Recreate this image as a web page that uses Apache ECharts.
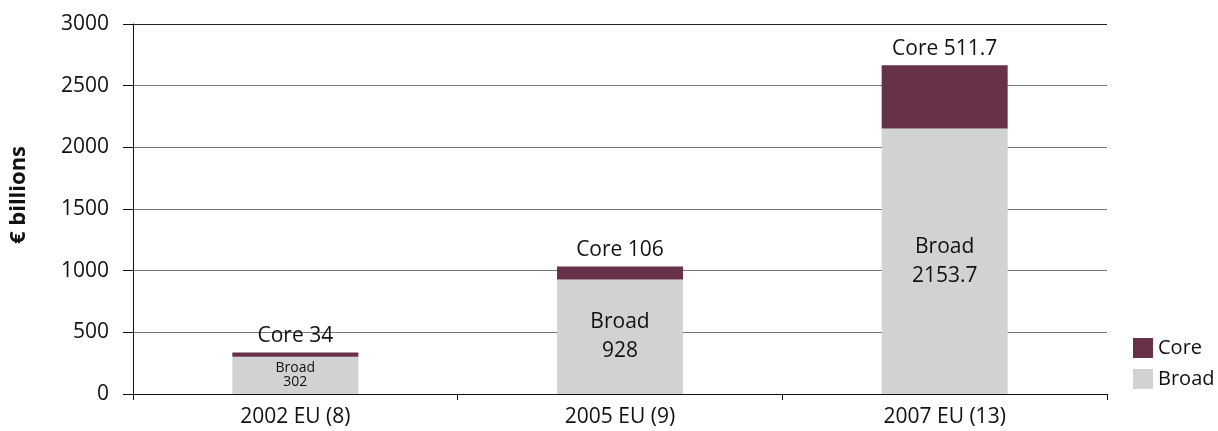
<!DOCTYPE html>
<html><head><meta charset="utf-8">
<script src="https://cdn.jsdelivr.net/npm/echarts@6/dist/echarts.min.js"></script>
<style>html,body{margin:0;padding:0;background:#fff}#c{width:1218px;height:431px}</style>
</head><body><div id="c"></div>
<script>
var categories = ['2002 EU (8)', '2005 EU (9)', '2007 EU (13)'];
var broadValues = [302, 928, 2153.7];
var coreValues = [34, 106, 511.7];
var yTicks = [0, 500, 1000, 1500, 2000, 2500, 3000];

var FONT = 'Open Sans';
var chart = echarts.init(document.getElementById('c'));
chart.setOption({
  animation: false,
  textStyle: { fontFamily: FONT },
  grid: { left: 133, right: 111, top: 24, bottom: 37 },
  graphic: [{
    type: 'text', x: 19, y: 195, rotation: Math.PI / 2,
    style: { text: '€ billions', fontSize: 22, fontWeight: 'bold', fill: '#111',
      fontFamily: FONT, align: 'center', verticalAlign: 'middle' }
  }],
  legend: {
    orient: 'vertical', left: 1128, top: 333, itemWidth: 20, itemHeight: 20, itemGap: 11,
    icon: 'rect',
    data: ['Core', 'Broad'],
    textStyle: { fontFamily: FONT, fontSize: 20, color: '#111' }
  },
  xAxis: {
    type: 'category', data: categories,
    axisLine: { lineStyle: { color: '#111', width: 1 } },
    axisTick: { show: true, length: 6, lineStyle: { color: '#111' } },
    axisLabel: { fontSize: 21, color: '#111', margin: 13, fontFamily: FONT }
  },
  yAxis: {
    type: 'value', min: 0, max: 3000, interval: 500,
    axisLine: { show: true, lineStyle: { color: '#111' } },
    axisTick: { show: true, length: 10, lineStyle: { color: '#111' } },
    axisLabel: { fontSize: 21, color: '#111', margin: 24, fontFamily: FONT,
      formatter: function (v) { return yTicks.indexOf(v) >= 0 ? String(v) : ''; } },
    splitLine: { lineStyle: { color: ['#777', '#777', '#777', '#777', '#777', '#777', '#222'] } }
  },
  series: [
    {
      name: 'Broad', type: 'bar', stack: 's', barWidth: 126,
      data: broadValues.map(function (v, i) {
        return i === 0 ? { value: v, label: { fontSize: 14, lineHeight: 14 } } : v;
      }),
      itemStyle: { color: '#d1d2d4' },
      label: {
        show: true, position: 'inside', color: '#111', fontFamily: FONT, lineHeight: 29,
        fontSize: 21,
        formatter: function (p) { return 'Broad\n' + p.value; }
      }
    },
    {
      name: 'Core', type: 'bar', stack: 's', data: coreValues, barWidth: 126,
      itemStyle: { color: '#67314a' },
      label: {
        show: true, position: 'top', distance: 6, color: '#111', fontFamily: FONT, fontSize: 21,
        formatter: function (p) { return 'Core ' + p.value; }
      }
    }
  ]
});
</script></body></html>
